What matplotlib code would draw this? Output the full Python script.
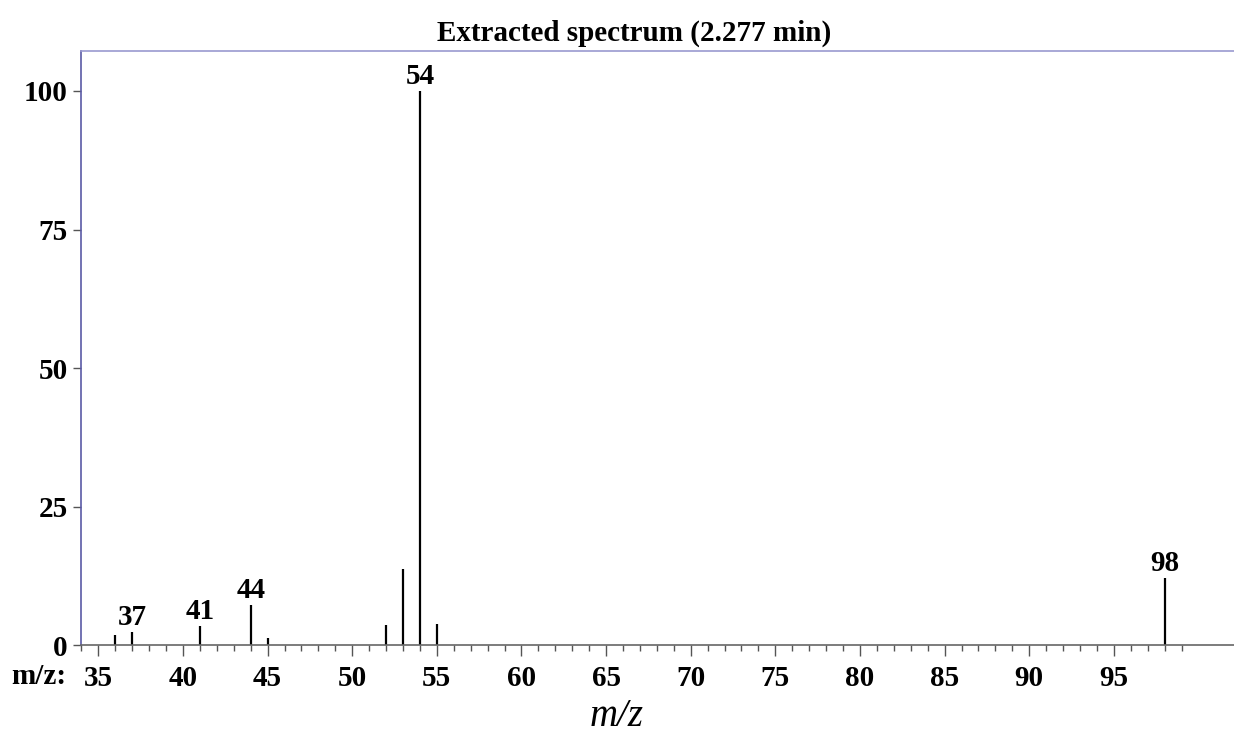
import matplotlib
matplotlib.use('Agg')
import matplotlib.pyplot as plt
from matplotlib.ticker import FixedLocator

# Spectrum data (m/z, relative intensity)
mz = [36, 37, 41, 44, 45, 52, 53, 54, 55, 98]
intensity = [1.8, 2.3, 3.5, 7.2, 1.3, 3.6, 13.7, 100, 3.8, 12.2]
labeled_peaks = [37, 41, 44, 54, 98]

x_major = list(range(35, 100, 5))
x_minor = list(range(34, 100))
y_ticks = [0, 25, 50, 75, 100]

plt.rcParams['font.family'] = ['Liberation Serif', 'DejaVu Serif']

fig = plt.figure(figsize=(12.34, 7.51), dpi=100)
ax = fig.add_axes([0.066, 0.141, 0.934, 0.791])

ax.vlines(mz, 0, intensity, color='black', linewidth=1.6)

for m, v in zip(mz, intensity):
    if m in labeled_peaks:
        ax.annotate(str(m), (m, v), xytext=(0, 5), textcoords='offset points',
                    ha='center', va='baseline', fontsize=21, fontweight='bold')

ax.set_xlim(34, 102.1)
ax.set_ylim(0, 107.2)

ax.set_xticks(x_major)
ax.xaxis.set_minor_locator(FixedLocator(x_minor))
ax.set_yticks(y_ticks)
ax.tick_params(axis='x', which='major', length=8, width=1, color='#555555', pad=6,
               labelsize=21)
ax.tick_params(axis='x', which='minor', length=4.5, width=1, color='#555555')
ax.tick_params(axis='y', length=6, width=1, color='#555555', pad=4, labelsize=21)
for lab in ax.get_xticklabels() + ax.get_yticklabels():
    lab.set_fontweight('bold')

ax.spines['right'].set_visible(False)
ax.spines['left'].set_color('#5a5aa5')
ax.spines['top'].set_color('#9a9ad0')
ax.spines['bottom'].set_color('#666666')
for s in ax.spines.values():
    s.set_linewidth(1.2)

fig.text(634 / 1234, 1 - 33 / 751, 'Extracted spectrum (2.277 min)',
         ha='center', va='center', fontsize=21, fontweight='bold')
fig.text(66 / 1234, 1 - 676 / 751, 'm/z:', ha='right', va='center',
         fontsize=21, fontweight='bold')
fig.text(617 / 1234, 1 - 717 / 751, 'm/z', ha='center', va='center',
         fontsize=28, fontstyle='italic')

plt.savefig('out.png', dpi=100)
